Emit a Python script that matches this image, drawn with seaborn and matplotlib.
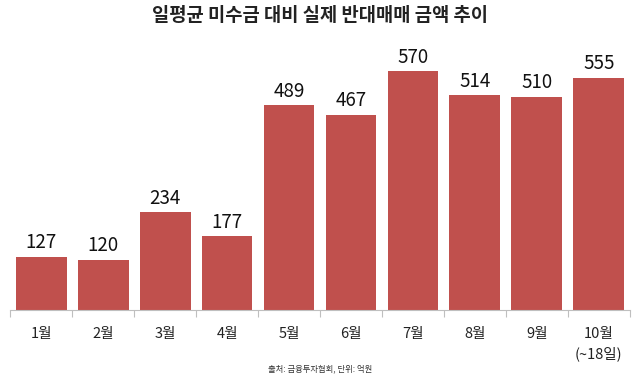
import numpy as np
import pandas as pd
import seaborn as sns
import matplotlib.pyplot as plt

months = ["1월", "2월", "3월", "4월", "5월", "6월", "7월", "8월", "9월", "10월\n(~18일)"]
values = [127, 120, 234, 177, 489, 467, 570, 514, 510, 555]

sns.set_theme(style="white")
plt.rcParams['font.family'] = ['Noto Sans CJK KR', 'DejaVu Sans']

df = pd.DataFrame({"month": months, "value": values})

fig = plt.figure(figsize=(6.4, 3.78), dpi=100)
ax = fig.add_axes([0.016, 0.18, 0.968, 0.714])
sns.barplot(data=df, x="month", y="value", color="#C0504D", saturation=1, width=0.82,
            linewidth=0, ax=ax)

# value labels above bars
for i, v in enumerate(values):
    ax.text(i, v + 8, str(v), ha="center", va="bottom", fontsize=13.5, color="#111111")

ax.set_ylim(0, 645)
ax.set_xlim(-0.5, 9.5)
ax.set_yticks([])
ax.set_xlabel("")
ax.set_ylabel("")
for s in ["top", "left", "right"]:
    ax.spines[s].set_visible(False)
ax.spines["bottom"].set_color("#BFBFBF")
ax.spines["bottom"].set_linewidth(0.8)

# ticks at category boundaries
ax.set_xticks(np.arange(-0.5, 10, 1), minor=True)
ax.tick_params(axis="x", which="minor", length=5, color="#BFBFBF", width=0.8, bottom=True)
ax.tick_params(axis="x", which="major", length=0, labelsize=10.5, pad=12, colors="#222222")
for lab in ax.get_xticklabels():
    lab.set_linespacing(1.5)

fig.text(0.5, 0.96, "일평균 미수금 대비 실제 반대매매 금액 추이", ha="center", va="center",
         fontsize=13.5, fontweight="bold", color="#222222")
fig.text(0.5, 0.025, "출처: 금융투자협회, 단위: 억원", ha="center", va="center",
         fontsize=6, color="#333333")

fig.savefig("out.png", dpi=100)
